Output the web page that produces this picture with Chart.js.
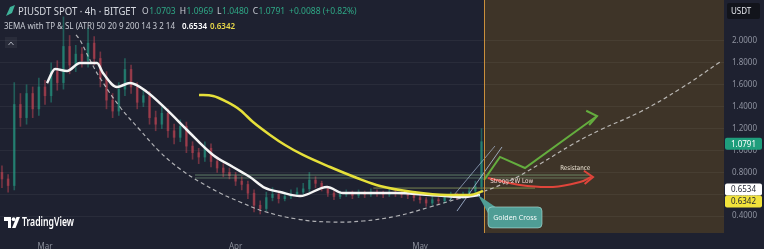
<!DOCTYPE html>
<html>
<head>
<meta charset="utf-8">
<script src="https://cdn.jsdelivr.net/npm/chart.js@4.4.1/dist/chart.umd.min.js"></script>
<style>
  html, body { margin: 0; padding: 0; background: #1e2130; }
  canvas { display: block; }
</style>
</head>
<body>
<canvas id="chart" width="764" height="249"></canvas>
<script>
// x values are days counted from 1 March, y values are USDT
const monthTicks = [0, 31, 61];
const monthLabels = ['Mar', 'Apr', 'May'];
const priceTicks = [0.4, 0.6, 0.8, 1.0, 1.2, 1.4, 1.6, 1.8, 2.0];

const candleDays = [-7,-6,-5,-4,-3,-2,-1,0,1,2,3,4,5,6,7,8,9,10,11,12,13,14,15,16,17,18,19,20,21,22,23,24,25,26,27,28,29,30,31,32,33,34,35,36,37,38,39,40,41,42,43,44,45,46,47,48,49,50,51,52,53,54,55,56,57,58,59,60,61,62,63,64,65,66,67,68,69,70,71];
const candleOpen = [0.80,0.74,0.68,1.42,1.30,1.52,1.38,1.58,1.50,1.72,1.62,1.95,1.78,1.88,1.82,1.98,1.84,1.66,1.46,1.36,1.56,1.74,1.58,1.44,1.50,1.30,1.24,1.34,1.18,1.12,1.22,1.04,0.98,0.94,1.02,0.90,0.84,0.80,0.77,0.72,0.69,0.61,0.50,0.47,0.57,0.60,0.56,0.58,0.60,0.62,0.65,0.73,0.70,0.66,0.61,0.58,0.60,0.61,0.59,0.61,0.60,0.62,0.61,0.60,0.62,0.61,0.60,0.59,0.57,0.55,0.52,0.55,0.54,0.57,0.59,0.58,0.60,0.63,0.67];
const candleClose = [0.74,0.68,1.42,1.30,1.52,1.38,1.58,1.50,1.72,1.62,1.95,1.78,1.88,1.82,1.98,1.84,1.66,1.46,1.36,1.56,1.74,1.58,1.44,1.50,1.30,1.24,1.34,1.18,1.12,1.22,1.04,0.98,0.94,1.02,0.90,0.84,0.80,0.77,0.72,0.69,0.61,0.50,0.47,0.57,0.60,0.56,0.58,0.60,0.62,0.65,0.73,0.70,0.66,0.61,0.58,0.60,0.61,0.59,0.61,0.60,0.62,0.61,0.60,0.62,0.61,0.60,0.59,0.57,0.55,0.52,0.55,0.54,0.57,0.59,0.58,0.60,0.63,0.67,1.08];
const candleHigh = [0.86,0.78,1.62,1.52,1.60,1.58,1.66,1.64,1.80,1.82,2.22,2.05,1.96,1.94,2.12,2.04,1.90,1.72,1.52,1.62,1.84,1.78,1.62,1.56,1.54,1.36,1.40,1.38,1.24,1.28,1.26,1.08,1.02,1.08,1.06,0.94,0.88,0.84,0.80,0.76,0.72,0.64,0.54,0.62,0.66,0.63,0.62,0.64,0.66,0.70,0.80,0.76,0.72,0.67,0.63,0.63,0.64,0.63,0.64,0.63,0.65,0.64,0.63,0.65,0.64,0.63,0.62,0.61,0.59,0.57,0.58,0.57,0.59,0.62,0.61,0.62,0.66,0.72,1.20];
const candleLow = [0.66,0.62,0.64,1.22,1.24,1.30,1.32,1.42,1.44,1.55,1.56,1.70,1.72,1.76,1.76,1.78,1.58,1.38,1.30,1.32,1.50,1.52,1.38,1.40,1.24,1.18,1.20,1.12,1.06,1.08,0.98,0.92,0.88,0.90,0.85,0.80,0.76,0.74,0.68,0.64,0.56,0.44,0.42,0.45,0.54,0.52,0.54,0.56,0.58,0.60,0.62,0.66,0.63,0.58,0.55,0.56,0.58,0.56,0.57,0.57,0.58,0.58,0.57,0.58,0.58,0.57,0.56,0.54,0.52,0.49,0.50,0.51,0.52,0.55,0.55,0.56,0.58,0.61,0.64];

const emaFastDays = [0.33,1.63,3.58,5.69,8.46,9.43,11.71,13.83,16.59,19.84,23.10,27.33,30.58,33.34,35.78,38.22,41.48,45.87,48.47,52.86,57.25,62.62,67.99,70.75];
const emaFastValues = [1.616,1.744,1.726,1.799,1.799,1.708,1.580,1.616,1.534,1.370,1.187,0.959,0.849,0.758,0.658,0.621,0.584,0.667,0.612,0.612,0.612,0.594,0.575,0.594];
const emaSlowDays = [25.05,27.33,29.6,31.72,33.83,36.6,39.04,41.96,46.36,50.75,54.49,59.86,65.39,69.13,71.24];
const emaSlowValues = [1.507,1.498,1.443,1.370,1.260,1.142,1.050,0.959,0.849,0.749,0.676,0.621,0.594,0.594,0.630];

const cupDays = [5.04,5.69,7.32,8.95,12.2,15.45,18.71,21.96,25.21,28.46,31.72,35.46,40.99,46.36,51.72,57.25,62.62,67.01,69.62,75.15,80.51,85.88,90.27,96.78,103.28,109.79];
const cupValues = [2.055,2.009,1.826,1.662,1.397,1.187,0.986,0.831,0.712,0.612,0.530,0.447,0.374,0.347,0.356,0.402,0.484,0.557,0.594,0.712,0.877,1.059,1.187,1.352,1.562,1.808];

const greenArrowDays = [71.41, 74.0, 78.07, 89.79];
const greenArrowValues = [0.731, 0.941, 0.840, 1.315];
const redArrowDays = [72.06, 77.26, 82.63, 87.02, 88.81];
const redArrowValues = [0.749, 0.685, 0.667, 0.712, 0.758];

const zoneDays = [24.4, 88.6];
const zoneTop = [0.776, 0.776];
const zoneBottom = [0.749, 0.749];
const supportDays = [53.4, 79.7];
const supportValues = [0.657, 0.657];
const channelADays = [67.01, 74.33];
const channelAValues = [0.447, 1.032];
const channelBDays = [65.71, 73.19];
const channelBValues = [0.539, 1.041];

const forecastStart = 71.4;
const goldenCross = [70.43, 0.594];
const lastPrice = 1.0791;
const emaFastLast = 0.6534;
const emaSlowLast = 0.6342;

const pts = (xs, ys) => xs.map((x, i) => ({ x, y: ys[i] }));
const UP = 'rgba(38, 166, 140, 0.45)';
const DOWN = 'rgba(205, 72, 86, 0.48)';
const candleColors = candleDays.map((d, i) => candleClose[i] >= candleOpen[i] ? UP : DOWN);

function lineSet(data, color, width, extra) {
  return Object.assign({
    type: 'line', data, borderColor: color, borderWidth: width,
    pointRadius: 0, tension: 0.4, fill: false,
  }, extra || {});
}

function arrowHead(ctx, x, y, ang, len, color) {
  ctx.beginPath();
  ctx.moveTo(x - len * Math.cos(ang - 0.65), y - len * Math.sin(ang - 0.65));
  ctx.lineTo(x, y);
  ctx.lineTo(x - len * Math.cos(ang + 0.65), y - len * Math.sin(ang + 0.65));
  ctx.strokeStyle = color;
  ctx.lineWidth = 2;
  ctx.lineJoin = 'miter';
  ctx.stroke();
}

function priceBox(ctx, cy, text, bg, fg) {
  ctx.fillStyle = bg;
  ctx.beginPath();
  ctx.roundRect(725, cy - 6, 37, 12, 2);
  ctx.fill();
  ctx.fillStyle = fg;
  ctx.font = '8px "Noto Sans"';
  ctx.textAlign = 'center';
  ctx.textBaseline = 'middle';
  ctx.fillText(text, 743.5, cy + 0.5);
}

// draws a row of [text, colour] pieces one after another
function textRow(ctx, x, y, pieces, gap) {
  for (const [t, c, g] of pieces) {
    ctx.fillStyle = c;
    ctx.fillText(t, x, y);
    x += ctx.measureText(t).width + (g === undefined ? gap : g);
  }
}

const decor = {
  id: 'decor',
  beforeDraw(chart) {
    const { ctx, chartArea: a, scales: { x } } = chart;
    ctx.save();
    ctx.fillStyle = '#1e2130';
    ctx.fillRect(0, 0, chart.width, chart.height);
    const xs = Math.round(x.getPixelForValue(forecastStart));
    ctx.fillStyle = '#3e3428';
    ctx.fillRect(xs, a.top, a.right - xs, a.bottom - a.top);
    ctx.restore();
  },
  afterDatasetsDraw(chart) {
    const { ctx, chartArea: a, scales: { x, y } } = chart;
    ctx.save();
    // forecast divider
    const xs = Math.round(x.getPixelForValue(forecastStart)) + 0.5;
    ctx.strokeStyle = '#c98f3c';
    ctx.lineWidth = 1;
    ctx.beginPath();
    ctx.moveTo(xs, a.top);
    ctx.lineTo(xs, a.bottom);
    ctx.stroke();

    // arrow heads
    const g = greenArrowDays.length - 1;
    arrowHead(ctx, x.getPixelForValue(greenArrowDays[g]), y.getPixelForValue(greenArrowValues[g]), -0.2, 12, '#64ad3e');
    const r = redArrowDays.length - 1;
    arrowHead(ctx, x.getPixelForValue(redArrowDays[r]) + 2, y.getPixelForValue(redArrowValues[r]), -0.05, 11, '#e0453b');

    // annotation texts
    ctx.font = '6.5px "DejaVu Sans"';
    ctx.textBaseline = 'middle';
    ctx.textAlign = 'left';
    ctx.fillStyle = '#f2d9d6';
    ctx.fillText('Strong 2W Low', x.getPixelForValue(72.4), y.getPixelForValue(0.715), 43);
    ctx.fillStyle = '#ece4d4';
    ctx.fillText('Resistance', x.getPixelForValue(83.8), y.getPixelForValue(0.835), 30);

    // golden cross callout
    const ax = x.getPixelForValue(goldenCross[0]);
    const ay = y.getPixelForValue(goldenCross[1]);
    const bx = ax + 10, by = ay + 12, bw = 54, bh = 21;
    ctx.fillStyle = '#4f9d95';
    ctx.beginPath();
    ctx.moveTo(ax, ay);
    ctx.lineTo(bx + 9, by + 1);
    ctx.lineTo(bx + 1, by + 8);
    ctx.closePath();
    ctx.fill();
    ctx.beginPath();
    ctx.roundRect(bx, by, bw, bh, 4);
    ctx.fill();
    ctx.strokeStyle = 'rgba(190, 235, 228, 0.55)';
    ctx.lineWidth = 1;
    ctx.stroke();
    ctx.fillStyle = '#f4fbfa';
    ctx.font = '7px "Noto Sans"';
    ctx.textAlign = 'center';
    ctx.fillText('Golden Cross', bx + bw / 2, by + bh / 2 + 0.5);
    ctx.restore();
  },
  afterDraw(chart) {
    const { ctx, scales: { y } } = chart;
    ctx.save();
    ctx.textBaseline = 'middle';
    ctx.textAlign = 'left';

    // symbol icon
    ctx.fillStyle = '#3fb39a';
    ctx.beginPath();
    ctx.moveTo(6, 16); ctx.lineTo(10, 7); ctx.lineTo(15, 5); ctx.lineTo(12, 13); ctx.closePath();
    ctx.fill();

    ctx.font = '10px "Noto Sans"';
    ctx.fillStyle = '#d6d9e0';
    ctx.fillText('PIUSDT SPOT · 4h · BITGET', 18, 12, 118);

    ctx.font = '8.5px "Noto Sans"';
    const k = '#c9ccd4', v = '#2fa886';
    textRow(ctx, 142, 12, [
      ['O', k, 0.5], ['1.0703', v], ['H', k, 0.5], ['1.0969', v], ['L', k, 0.5], ['1.0480', v],
      ['C', k, 0.5], ['1.0791', v], ['+0.0088 (+0.82%)', v],
    ], 4);

    ctx.font = '8px "Noto Sans"';
    ctx.fillStyle = '#c9ccd4';
    ctx.fillText('3EMA with TP & SL (ATR) 50 20 9 200 14 3 2 14', 4, 27, 171);
    ctx.font = '600 8px "Noto Sans"';
    ctx.fillStyle = '#ffffff';
    ctx.fillText(emaFastLast.toFixed(4), 182, 27);
    ctx.fillStyle = '#e8d84a';
    ctx.fillText(emaSlowLast.toFixed(4), 210, 27);

    // collapse chevron
    ctx.fillStyle = 'rgba(255,255,255,0.05)';
    ctx.fillRect(5, 37, 12, 11);
    ctx.strokeStyle = '#a9adb8';
    ctx.lineWidth = 1;
    ctx.beginPath();
    ctx.moveTo(8.5, 45); ctx.lineTo(11, 42); ctx.lineTo(13.5, 45);
    ctx.stroke();

    // currency box
    ctx.fillStyle = '#12141b';
    ctx.beginPath();
    ctx.roundRect(727, 3, 33, 16, 2);
    ctx.fill();
    ctx.fillStyle = '#e6e8ee';
    ctx.font = '8px "Noto Sans"';
    ctx.fillText('USDT', 731, 11.5);

    // last value boxes
    const c1 = y.getPixelForValue(lastPrice) + 2;
    priceBox(ctx, c1, lastPrice.toFixed(4), '#1f9e7c', '#ffffff');
    const c2 = y.getPixelForValue(emaFastLast) + 1;
    priceBox(ctx, c2, emaFastLast.toFixed(4), '#ffffff', '#1e2130');
    const c3 = Math.max(y.getPixelForValue(emaSlowLast), c2 + 12);
    priceBox(ctx, c3, emaSlowLast.toFixed(4), '#f2e33b', '#1e2130');

    // TradingView logo
    ctx.fillStyle = '#ffffff';
    ctx.fillRect(4, 217, 7, 4);
    ctx.fillRect(8, 217, 3, 11);
    ctx.beginPath();
    ctx.arc(13.6, 219.2, 1.9, 0, Math.PI * 2);
    ctx.fill();
    ctx.beginPath();
    ctx.moveTo(12, 228); ctx.lineTo(16.5, 217); ctx.lineTo(20, 217); ctx.lineTo(15.5, 228);
    ctx.closePath();
    ctx.fill();
    ctx.font = '600 12px "Noto Sans"';
    ctx.textAlign = 'left';
    ctx.fillText('TradingView', 22, 222.5, 52);
    ctx.restore();
  },
};

new Chart(document.getElementById('chart'), {
  type: 'line',
  data: {
    datasets: [
      { type: 'bar', data: pts(candleDays, candleDays.map((d, i) => [candleLow[i], candleHigh[i]])),
        backgroundColor: candleColors, barThickness: 1, grouped: false, order: 11 },
      { type: 'bar', data: pts(candleDays, candleDays.map((d, i) => [candleOpen[i], candleClose[i]])),
        backgroundColor: candleColors, barThickness: 2, grouped: false, order: 10 },
      lineSet(pts(zoneDays, zoneTop), 'rgba(150, 200, 150, 0.55)', 1, { tension: 0, order: 9 }),
      lineSet(pts(zoneDays, zoneBottom), 'rgba(150, 200, 150, 0.45)', 1, { tension: 0, order: 9 }),
      lineSet(pts(supportDays, supportValues), 'rgba(160, 175, 95, 0.7)', 1, { tension: 0, order: 9 }),
      lineSet(pts(cupDays, cupValues), 'rgba(225, 225, 225, 0.75)', 1.2, { borderDash: [4, 3], order: 7 }),
      lineSet(pts(channelADays, channelAValues), 'rgba(185, 205, 235, 0.75)', 1, { tension: 0, order: 6 }),
      lineSet(pts(channelBDays, channelBValues), 'rgba(185, 205, 235, 0.6)', 1, { tension: 0, order: 6 }),
      lineSet(pts(emaFastDays, emaFastValues), '#f4f4f4', 2.5, { cubicInterpolationMode: 'monotone', order: 3 }),
      lineSet(pts(emaSlowDays, emaSlowValues), '#e6e03a', 2.5, { cubicInterpolationMode: 'monotone', order: 2 }),
      lineSet(pts(greenArrowDays, greenArrowValues), '#64ad3e', 2, { tension: 0, order: 1 }),
      lineSet(pts(redArrowDays, redArrowValues), '#e0453b', 2, { order: 1 }),
    ],
  },
  options: {
    responsive: false,
    animation: false,
    devicePixelRatio: 1,
    layout: { padding: 0 },
    plugins: { legend: { display: false }, tooltip: { enabled: false } },
    scales: {
      x: {
        type: 'linear', min: -7.32, max: 110.44, offset: false,
        grid: { display: false }, border: { display: false },
        afterBuildTicks: (s) => { s.ticks = monthTicks.map(v => ({ value: v })); },
        afterFit: (s) => { s.height = 16; s.paddingLeft = 0; s.paddingRight = 0; },
        ticks: {
          color: '#8b8f9a', font: { family: 'Noto Sans', size: 8 }, padding: 1, maxRotation: 0,
          callback: (v) => monthLabels[monthTicks.indexOf(v)],
        },
      },
      y: {
        type: 'linear', position: 'right', min: 0.2466, max: 2.374,
        grid: { color: 'rgba(255,255,255,0.05)', drawTicks: false }, border: { display: false },
        afterBuildTicks: (s) => { s.ticks = priceTicks.map(v => ({ value: v })); },
        afterFit: (s) => { s.width = 40; s.paddingTop = 0; s.paddingBottom = 0; },
        ticks: {
          color: '#8f93a0', font: { family: 'Noto Sans', size: 8 }, padding: 8,
          callback: (v) => Number(v).toFixed(4),
        },
      },
    },
  },
  plugins: [decor],
});
</script>
</body>
</html>
